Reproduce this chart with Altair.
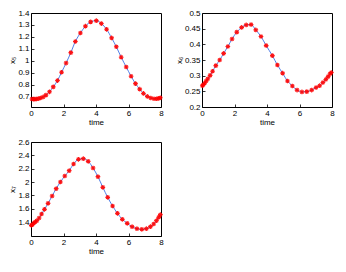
import altair as alt
import pandas as pd

# ---- data ----
t5 = [0.06, 0.16, 0.24, 0.33, 0.45, 0.59, 0.75, 0.92, 1.14, 1.37, 1.63, 1.88, 2.16, 2.45, 2.73,
      3.04, 3.35, 3.67, 4.02, 4.33, 4.65, 4.96, 5.25, 5.55, 5.86, 6.16, 6.43, 6.69, 6.92, 7.16,
      7.37, 7.57, 7.73, 7.86, 7.96]
x5 = [0.682, 0.680, 0.680, 0.682, 0.685, 0.690, 0.699, 0.714, 0.742, 0.783, 0.836, 0.905, 0.982,
      1.069, 1.162, 1.233, 1.290, 1.326, 1.336, 1.312, 1.264, 1.192, 1.118, 1.031, 0.949, 0.872,
      0.810, 0.764, 0.728, 0.703, 0.690, 0.684, 0.684, 0.687, 0.692]

t6 = [0.02, 0.08, 0.16, 0.26, 0.36, 0.50, 0.65, 0.85, 1.09, 1.33, 1.59, 1.85, 2.14, 2.44, 2.72,
      3.02, 3.31, 3.63, 3.95, 4.33, 4.64, 4.96, 5.26, 5.56, 5.85, 6.15, 6.45, 6.75, 7.02, 7.24,
      7.44, 7.62, 7.76, 7.88, 7.96]
x6 = [0.268, 0.271, 0.276, 0.283, 0.290, 0.301, 0.314, 0.332, 0.350, 0.371, 0.393, 0.417, 0.439,
      0.454, 0.462, 0.463, 0.446, 0.425, 0.396, 0.364, 0.334, 0.308, 0.283, 0.267, 0.254, 0.248,
      0.249, 0.254, 0.262, 0.268, 0.278, 0.288, 0.297, 0.306, 0.310]

t7 = [0.02, 0.08, 0.16, 0.26, 0.36, 0.50, 0.65, 0.83, 1.05, 1.30, 1.55, 1.81, 2.08, 2.35, 2.62,
      2.92, 3.22, 3.52, 3.82, 4.12, 4.42, 4.72, 5.02, 5.32, 5.62, 5.92, 6.22, 6.52, 6.82, 7.10,
      7.35, 7.55, 7.72, 7.86, 7.96]
x7 = [1.35, 1.36, 1.38, 1.40, 1.42, 1.46, 1.52, 1.59, 1.68, 1.79, 1.90, 2.00, 2.09, 2.17, 2.27,
      2.34, 2.35, 2.31, 2.21, 2.08, 1.92, 1.77, 1.64, 1.53, 1.44, 1.38, 1.33, 1.30, 1.29, 1.30,
      1.33, 1.37, 1.42, 1.47, 1.51]

xticks = [0, 2, 4, 6, 8]
yticks5 = [0.7, 0.8, 0.9, 1.0, 1.1, 1.2, 1.3, 1.4]
yticks6 = [0.2, 0.25, 0.3, 0.35, 0.4, 0.45, 0.5]
yticks7 = [1.4, 1.6, 1.8, 2.0, 2.2, 2.4, 2.6]

W, H = 130, 94
FONT = "Liberation Sans"
STAR = "M-1,0L1,0M0,-1L0,1M-0.7,-0.7L0.7,0.7M-0.7,0.7L0.7,-0.7"


def panel(t, v, ytitle, ydom, yticks, fmt):
    df = pd.DataFrame({"t": t, "v": v})
    xs = alt.Scale(domain=[0, 8], nice=False, zero=False)
    ys = alt.Scale(domain=ydom, nice=False, zero=False)
    xax = alt.Axis(values=xticks, title="time", format="d")
    yax = alt.Axis(values=yticks, title=ytitle, format=fmt)
    base = alt.Chart(df).encode(
        x=alt.X("t:Q", scale=xs, axis=xax),
        y=alt.Y("v:Q", scale=ys, axis=yax),
    )
    line = base.mark_line(color="#3b6fe4", strokeWidth=0.9, interpolate="monotone")
    pts = base.mark_point(shape=STAR, color="#ff0000", size=22, strokeWidth=1.1,
                          filled=False, opacity=0.9)
    return alt.layer(line, pts).properties(width=W, height=H)


p5 = panel(t5, x5, "x₅", [0.615, 1.4], yticks5, ".1~f")
p6 = panel(t6, x6, "x₆", [0.2, 0.5], yticks6, ".2~f")
p7 = panel(t7, x7, "x₇", [1.19, 2.6], yticks7, ".1~f")

chart = alt.vconcat(
    alt.hconcat(p5, p6, spacing=8),
    p7,
    spacing=10,
    padding={"left": 0, "top": 0, "right": 0, "bottom": 0},
).configure(
    background="white",
    view=alt.ViewConfig(stroke="#000000", strokeWidth=1, strokeOpacity=1),
    axis=alt.AxisConfig(
        grid=False, tickSize=3, offset=-3, tickColor="black", tickWidth=0.8, domain=False,
        labelPadding=2, titlePadding=1, labelFontSize=8, titleFontSize=8,
        titleFontWeight="normal", labelFont=FONT, titleFont=FONT,
        labelColor="black", titleColor="black", labelOverlap=False, labelFlush=False,
    ),
)

chart.save("out.html", embed_options={"renderer": "svg", "actions": False})
